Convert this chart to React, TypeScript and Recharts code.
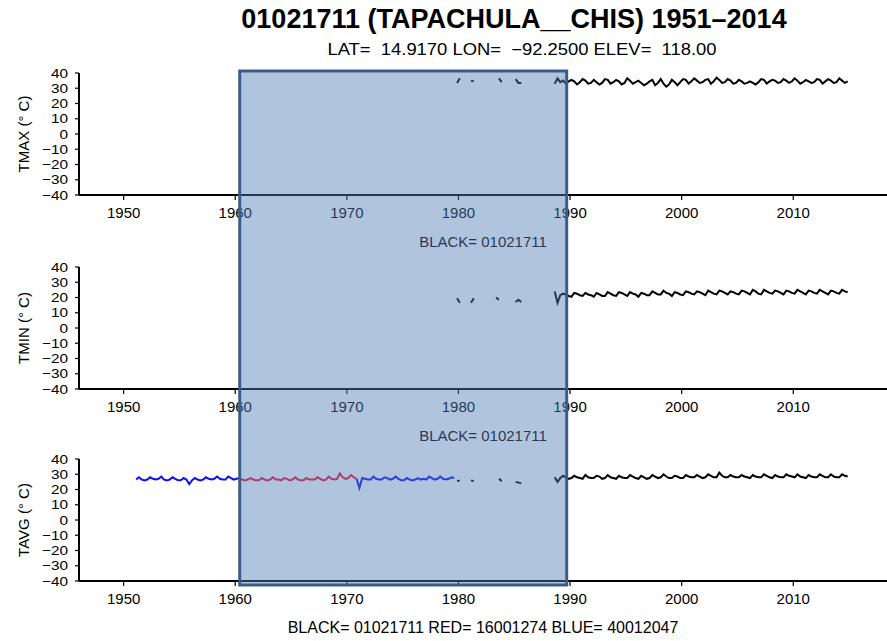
import React from "react";
import { LineChart, Line, XAxis, YAxis, ReferenceArea } from "recharts";

// quarterly means, one row per year: [Q1, Q2, Q3, Q4]
type Row = (number | null)[];

const QUARTER_OFFSETS = [0.125, 0.375, 0.625, 0.875];
const YEAR_TICKS = [1950, 1960, 1970, 1980, 1990, 2000, 2010];
const TEMP_TICKS = [-40, -30, -20, -10, 0, 10, 20, 30, 40];
const X_DOMAIN: [number, number] = [1946, 2018.4];
const SHADE: [number, number] = [1960.4, 1989.7];

const TMAX_START = 1979;
const TMAX_BLACK: Row[] = [
  [null, null, null, 33.5],
  [36.5, null, null, null],
  [35, 34.5, null, null],
  [null, null, null, null],
  [null, null, 36.5, 34],
  [null, null, null, null],
  [36, 33.5, 33.5, null],
  [null, null, null, null],
  [null, null, null, null],
  [null, null, 33, 36.5],
  [34, 35, 33, 34.5],
  [35.5, 34.5, 32.5, 34],
  [36, 35, 33, 33.5],
  [35.5, 34, 32.5, 33.5],
  [36, 35.5, 33, 34],
  [35.5, 34.5, 32.5, 33.5],
  [36.5, 35, 33, 34],
  [35, 33.5, 32, 33],
  [34.5, 35.5, 32, 33.5],
  [36, 33, 31, 32.5],
  [35.5, 34, 32, 34],
  [36, 35.5, 33, 34.5],
  [36.5, 35, 33.5, 34],
  [35.5, 36, 33, 34.5],
  [37, 35.5, 33.5, 34],
  [36, 35, 33, 33.5],
  [35.5, 34.5, 33, 33.5],
  [34.5, 33.5, 32.5, 34],
  [36, 35.5, 33, 34.5],
  [35.5, 35, 33.5, 34],
  [36, 35, 33.5, 34.5],
  [36.5, 35, 33, 34],
  [35.5, 34.5, 33.5, 34],
  [36, 35.5, 33, 34.5],
  [36, 35, 33.5, 34],
  [36.5, 35, 33.5, 34.5],
];

const TMIN_START = 1979;
const TMIN_BLACK: Row[] = [
  [null, null, null, 19.5],
  [16.5, null, null, null],
  [16.5, 19.5, null, null],
  [null, null, null, null],
  [null, 20, 18.5, null],
  [null, null, null, null],
  [17, 18.5, 17, null],
  [null, null, null, null],
  [null, null, null, null],
  [null, null, 24, 16.5],
  [21.5, 22.5, 22, 21],
  [20.5, 23, 22.5, 21.5],
  [21, 23, 22, 21.5],
  [20.5, 23, 22, 21],
  [21, 23.5, 22.5, 21.5],
  [21, 23.5, 23, 22],
  [21, 23.5, 22.5, 22],
  [20.5, 23, 22.5, 21.5],
  [21.5, 24, 23, 22],
  [22, 24.5, 23, 22.5],
  [21, 23.5, 23, 22],
  [21.5, 24, 23.5, 22.5],
  [22, 24, 23.5, 22.5],
  [21.5, 24.5, 23.5, 22.5],
  [22, 24.5, 24, 23],
  [22, 24, 23.5, 22.5],
  [22, 24.5, 24, 23],
  [22, 25, 24, 22.5],
  [22, 25, 24, 23],
  [22.5, 24.5, 24, 23],
  [22, 24.5, 24, 23],
  [22.5, 25, 24, 23],
  [22, 24.5, 24, 23],
  [22.5, 25, 24, 23],
  [22, 24.5, 24, 23],
  [22.5, 25, 24, 23.5],
];

const TAVG_BLACK_START = 1979;
const TAVG_BLACK: Row[] = [
  [null, null, null, 25.5],
  [26, null, null, null],
  [26, 25.5, null, null],
  [null, null, null, null],
  [null, null, 27, 25.5],
  [null, null, null, null],
  [25, 24.5, 24, null],
  [null, null, null, null],
  [null, null, null, null],
  [null, null, 28, 25],
  [27.5, 29, 28, 27],
  [27.5, 29, 28, 27.5],
  [27, 29.5, 28, 27.5],
  [27.5, 29, 28.5, 27],
  [27.5, 29.5, 28, 27.5],
  [27, 29, 28, 27.5],
  [27.5, 29.5, 28.5, 27.5],
  [27, 29, 28, 27],
  [27.5, 29.5, 28.5, 27.5],
  [28, 30, 28.5, 27.5],
  [27.5, 29, 28.5, 27.5],
  [27.5, 29.5, 28.5, 28],
  [28, 29.5, 28.5, 27.5],
  [28, 30, 29, 28],
  [28, 31, 29, 28],
  [28, 29.5, 28.5, 28],
  [28, 29.5, 28.5, 28],
  [27.5, 29.5, 28.5, 28],
  [28, 30, 29, 28],
  [27.5, 29.5, 28.5, 28],
  [28, 30, 29, 28.5],
  [28, 30, 28.5, 28],
  [27.5, 29.5, 28.5, 28],
  [28, 30, 29, 28],
  [28, 30, 28.5, 28],
  [28, 30, 29, 28.5],
];

const TAVG_RED_START = 1960;
const TAVG_RED: Row[] = [
  [null, 27.5, 26.5, 26],
  [26.5, 27.5, 26.5, 26],
  [26, 27.5, 26.5, 26],
  [26.5, 28, 26.5, 26.5],
  [26, 27.5, 27, 26],
  [26.5, 28, 26.5, 26],
  [26, 27.5, 26.5, 26.5],
  [26.5, 28, 27, 26],
  [26.5, 28.5, 27, 26.5],
  [27, 30.5, 28, 27],
  [27.5, 29.5, 28, 27],
];

const TAVG_BLUE_START = 1951;
const TAVG_BLUE: Row[] = [
  [26.5, 28, 26.5, 26],
  [26.5, 28, 27, 26.5],
  [27, 28.5, 26.5, 26],
  [26.5, 28, 27, 26],
  [26, 27.5, 26.5, 23.5],
  [26, 27.5, 26.5, 26],
  [26.5, 28, 27, 26.5],
  [27, 28.5, 27, 26.5],
  [26.5, 28.5, 27.5, 26.5],
  [27, 27.5, null, null],
  [null, null, null, null],
  [null, null, null, null],
  [null, null, null, null],
  [null, null, null, null],
  [null, null, null, null],
  [null, null, null, null],
  [null, null, null, null],
  [null, null, null, null],
  [null, null, null, null],
  [null, null, null, 27],
  [21, 27.5, 27, 26.5],
  [26.5, 28.5, 27, 26.5],
  [26.5, 28, 27.5, 26.5],
  [27, 28.5, 27, 26],
  [26, 27.5, 26.5, 26],
  [26.5, 27.5, 26.5, 27],
  [26.5, 28.5, 27.5, 26.5],
  [27, 28.5, 27, 26.5],
  [27, 28, 27.5, null],
];

const FONT = '"Liberation Sans", Arial, Helvetica, sans-serif';

function buildRows(series: Record<string, { start: number; rows: Row[] }>) {
  const byT = new Map<number, Record<string, number | null>>();
  for (const [key, s] of Object.entries(series)) {
    s.rows.forEach((row, i) => {
      row.forEach((v, q) => {
        const t = s.start + i + QUARTER_OFFSETS[q];
        const rec = byT.get(t) ?? { t };
        rec[key] = v;
        byT.set(t, rec);
      });
    });
  }
  return [...byT.values()].sort((a, b) => (a.t as number) - (b.t as number));
}

const tmaxData = buildRows({ black: { start: TMAX_START, rows: TMAX_BLACK } });
const tminData = buildRows({ black: { start: TMIN_START, rows: TMIN_BLACK } });
const tavgData = buildRows({
  black: { start: TAVG_BLACK_START, rows: TAVG_BLACK },
  red: { start: TAVG_RED_START, rows: TAVG_RED },
  blue: { start: TAVG_BLUE_START, rows: TAVG_BLUE },
});

const fmtTemp = (v: number) => (v < 0 ? `\u2212${-v}` : `${v}`);

// NCL's font is wider than Liberation Sans, so stretch the tick text a bit
function TempTick(props: any) {
  const { x, y, payload } = props;
  return (
    <text
      x={x}
      y={y}
      textAnchor="end"
      dominantBaseline="central"
      fontSize={13}
      fontFamily={FONT}
      fill="#000"
      transform={`translate(${x} ${y}) scale(1.18 1) translate(${-x} ${-y})`}
    >
      {fmtTemp(payload.value)}
    </text>
  );
}

function SideTitle(props: any) {
  const { viewBox, value } = props;
  const cx = 23;
  const cy = viewBox.y + viewBox.height / 2;
  return (
    <text
      x={cx}
      y={cy}
      transform={`rotate(-90, ${cx}, ${cy})`}
      textAnchor="middle"
      dominantBaseline="central"
      fontSize={15}
      fontFamily={FONT}
      fill="#000"
    >
      {value}
    </text>
  );
}

const PLOT_H = 122;
const TOP_PAD = 13;
const XAXIS_H = 30;

function Panel({
  plotTop,
  data,
  title,
  children,
}: {
  plotTop: number;
  data: any[];
  title: string;
  children: React.ReactNode;
}) {
  return (
    <div style={{ position: "absolute", left: 0, top: plotTop - TOP_PAD }}>
      <LineChart
        width={887}
        height={TOP_PAD + PLOT_H + XAXIS_H}
        data={data}
        margin={{ top: TOP_PAD, right: 0, left: 0, bottom: 0 }}
      >
        <XAxis
          dataKey="t"
          type="number"
          domain={X_DOMAIN}
          ticks={YEAR_TICKS}
          allowDataOverflow
          height={XAXIS_H}
          axisLine={{ stroke: "#000", strokeWidth: 2 }}
          tickLine={{ stroke: "#000", strokeWidth: 1.2 }}
          tickSize={5}
          tickMargin={7}
          tick={{ fill: "#000", fontSize: 15, fontFamily: FONT }}
        />
        <YAxis
          type="number"
          domain={[-40, 40]}
          ticks={TEMP_TICKS}
          width={79}
          interval={0}
          axisLine={{ stroke: "#000", strokeWidth: 2 }}
          tickLine={{ stroke: "#000", strokeWidth: 1.2 }}
          tickSize={4}
          tickMargin={7}
          tick={<TempTick />}
          label={<SideTitle value={title} />}
        />
        {children}
      </LineChart>
    </div>
  );
}

function Caption({ y, text, size = 15 }: { y: number; text: string; size?: number }) {
  return (
    <div
      style={{
        position: "absolute",
        left: 79,
        width: 808,
        top: y - 9,
        lineHeight: "18px",
        textAlign: "center",
        fontSize: size,
        fontFamily: FONT,
        color: "#000",
        whiteSpace: "pre",
      }}
    >
      {text}
    </div>
  );
}

export default function App() {
  return (
    <div
      style={{
        position: "absolute",
        left: 0,
        top: 0,
        width: 887,
        height: 641,
        background: "#fff",
        overflow: "hidden",
        fontFamily: FONT,
      }}
    >
      <div
        style={{
          position: "absolute",
          left: 214,
          width: 600,
          top: 4,
          textAlign: "center",
          fontSize: 27,
          fontWeight: "bold",
          lineHeight: "30px",
          whiteSpace: "pre",
        }}
      >
        01021711 (TAPACHULA__CHIS) 1951{"\u2013"}2014
      </div>
      <div
        style={{
          position: "absolute",
          left: 222,
          width: 600,
          top: 40,
          textAlign: "center",
          fontSize: 16,
          lineHeight: "20px",
          whiteSpace: "pre",
          transform: "scaleX(1.15)",
        }}
      >
        {"LAT=  14.9170 LON=  \u221292.2500 ELEV=  118.00"}
      </div>

      <Panel plotTop={73} data={tmaxData} title="TMAX (° C)">
        <Line
          dataKey="black"
          stroke="#000"
          strokeWidth={2}
          dot={false}
          isAnimationActive={false}
        />
      </Panel>
      <Caption y={242} text="BLACK= 01021711" />

      <Panel plotTop={267} data={tminData} title="TMIN (° C)">
        <Line
          dataKey="black"
          stroke="#000"
          strokeWidth={2}
          dot={false}
          isAnimationActive={false}
        />
      </Panel>
      <Caption y={436} text="BLACK= 01021711" />

      <Panel plotTop={459} data={tavgData} title="TAVG (° C)">
        <Line
          dataKey="blue"
          stroke="#1010f0"
          strokeWidth={2}
          dot={false}
          isAnimationActive={false}
        />
        <Line
          dataKey="red"
          stroke="#f01030"
          strokeWidth={2}
          dot={false}
          isAnimationActive={false}
        />
        <Line
          dataKey="black"
          stroke="#000"
          strokeWidth={2}
          dot={false}
          isAnimationActive={false}
        />
      </Panel>
      <Caption y={628} size={16} text="BLACK= 01021711 RED= 16001274 BLUE= 40012047" />

      {/* shaded overlap period, drawn over all three panels */}
      <div style={{ position: "absolute", left: 0, top: 0, pointerEvents: "none" }}>
        <LineChart
          width={887}
          height={641}
          data={[
            { t: SHADE[0], v: 0 },
            { t: SHADE[1], v: 1 },
          ]}
          margin={{ top: 71, right: 0, left: 79, bottom: 641 - 585 }}
        >
          <XAxis dataKey="t" type="number" domain={X_DOMAIN} allowDataOverflow hide />
          <YAxis type="number" domain={[0, 1]} allowDataOverflow hide />
          <ReferenceArea
            x1={SHADE[0]}
            x2={SHADE[1]}
            y1={0}
            y2={1}
            fill="#4f7cb6"
            fillOpacity={0.45}
            stroke="#3b5c88"
            strokeWidth={3}
            strokeOpacity={1}
            ifOverflow="visible"
          />
        </LineChart>
      </div>
    </div>
  );
}
